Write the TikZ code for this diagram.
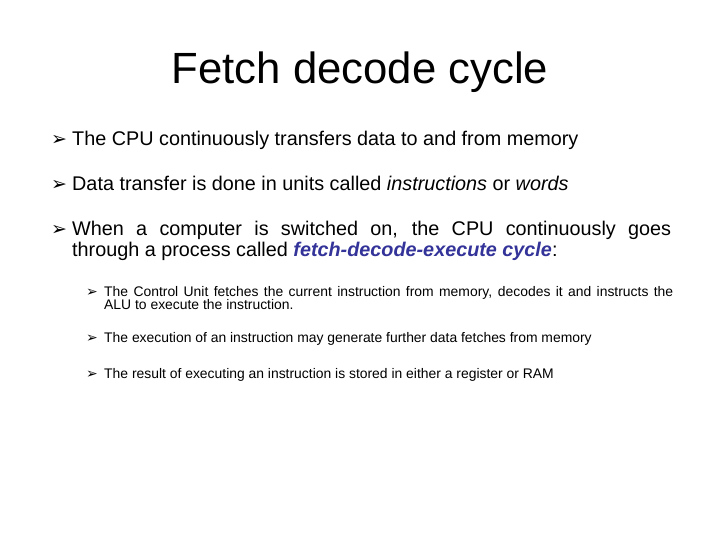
\documentclass[tikz,border=0pt]{standalone}
\usepackage{fontspec}
\setmainfont{Liberation Sans}
\newfontfamily\symfont{DejaVu Sans}
\definecolor{hl}{HTML}{333399}
\begin{document}
\begin{tikzpicture}[x=1pt,y=-1pt,
  t1/.style={anchor=base west,inner sep=0pt,font=\fontsize{19.8}{22}\selectfont},
  t2/.style={anchor=base west,inner sep=0pt,font=\fontsize{13.9}{16}\selectfont},
  b1/.style={anchor=base west,inner sep=0pt,font=\symfont\fontsize{19}{20}\selectfont},
  b2/.style={anchor=base west,inner sep=0pt,font=\symfont\fontsize{14}{16}\selectfont}]
\useasboundingbox[fill=white] (0,0) rectangle (720,540);
\node[anchor=base,inner sep=0pt,font=\fontsize{43.7}{48}\selectfont] (title) at (360,84) {Fetch decode cycle};
\node[b1] (a1) at (51,146) {➢};
\node[t1] (l1) at (72,146) {The CPU continuously transfers data to and from memory};
\node[b1] (a2) at (51,191) {➢};
\node[t1] (l2) at (72,191) {Data transfer is done in units called \textit{instructions} or \textit{words}};
\node[b1] (a3) at (51,236) {➢};
\node[t1] (l3) at (72,236) {\makebox[599pt][s]{When a computer is switched on, the CPU continuously goes}};
\node[t1] (l3b) at (72,256) {through a process called \textcolor{hl}{\textbf{\textit{fetch-decode-execute cycle}}}:};
\node[b2] (s1) at (86,296) {➢};
\node[t2] (m1) at (104,296) {\makebox[569pt][s]{The Control Unit fetches the current instruction from memory, decodes it and instructs the}};
\node[t2] (m1b) at (104,309) {ALU to execute the instruction.};
\node[b2] (s2) at (86,342) {➢};
\node[t2] (m2) at (104,342) {The execution of an instruction may generate further data fetches from memory};
\node[b2] (s3) at (86,378) {➢};
\node[t2] (m3) at (104,378) {The result of executing an instruction is stored in either a register or RAM};
\end{tikzpicture}
\end{document}
